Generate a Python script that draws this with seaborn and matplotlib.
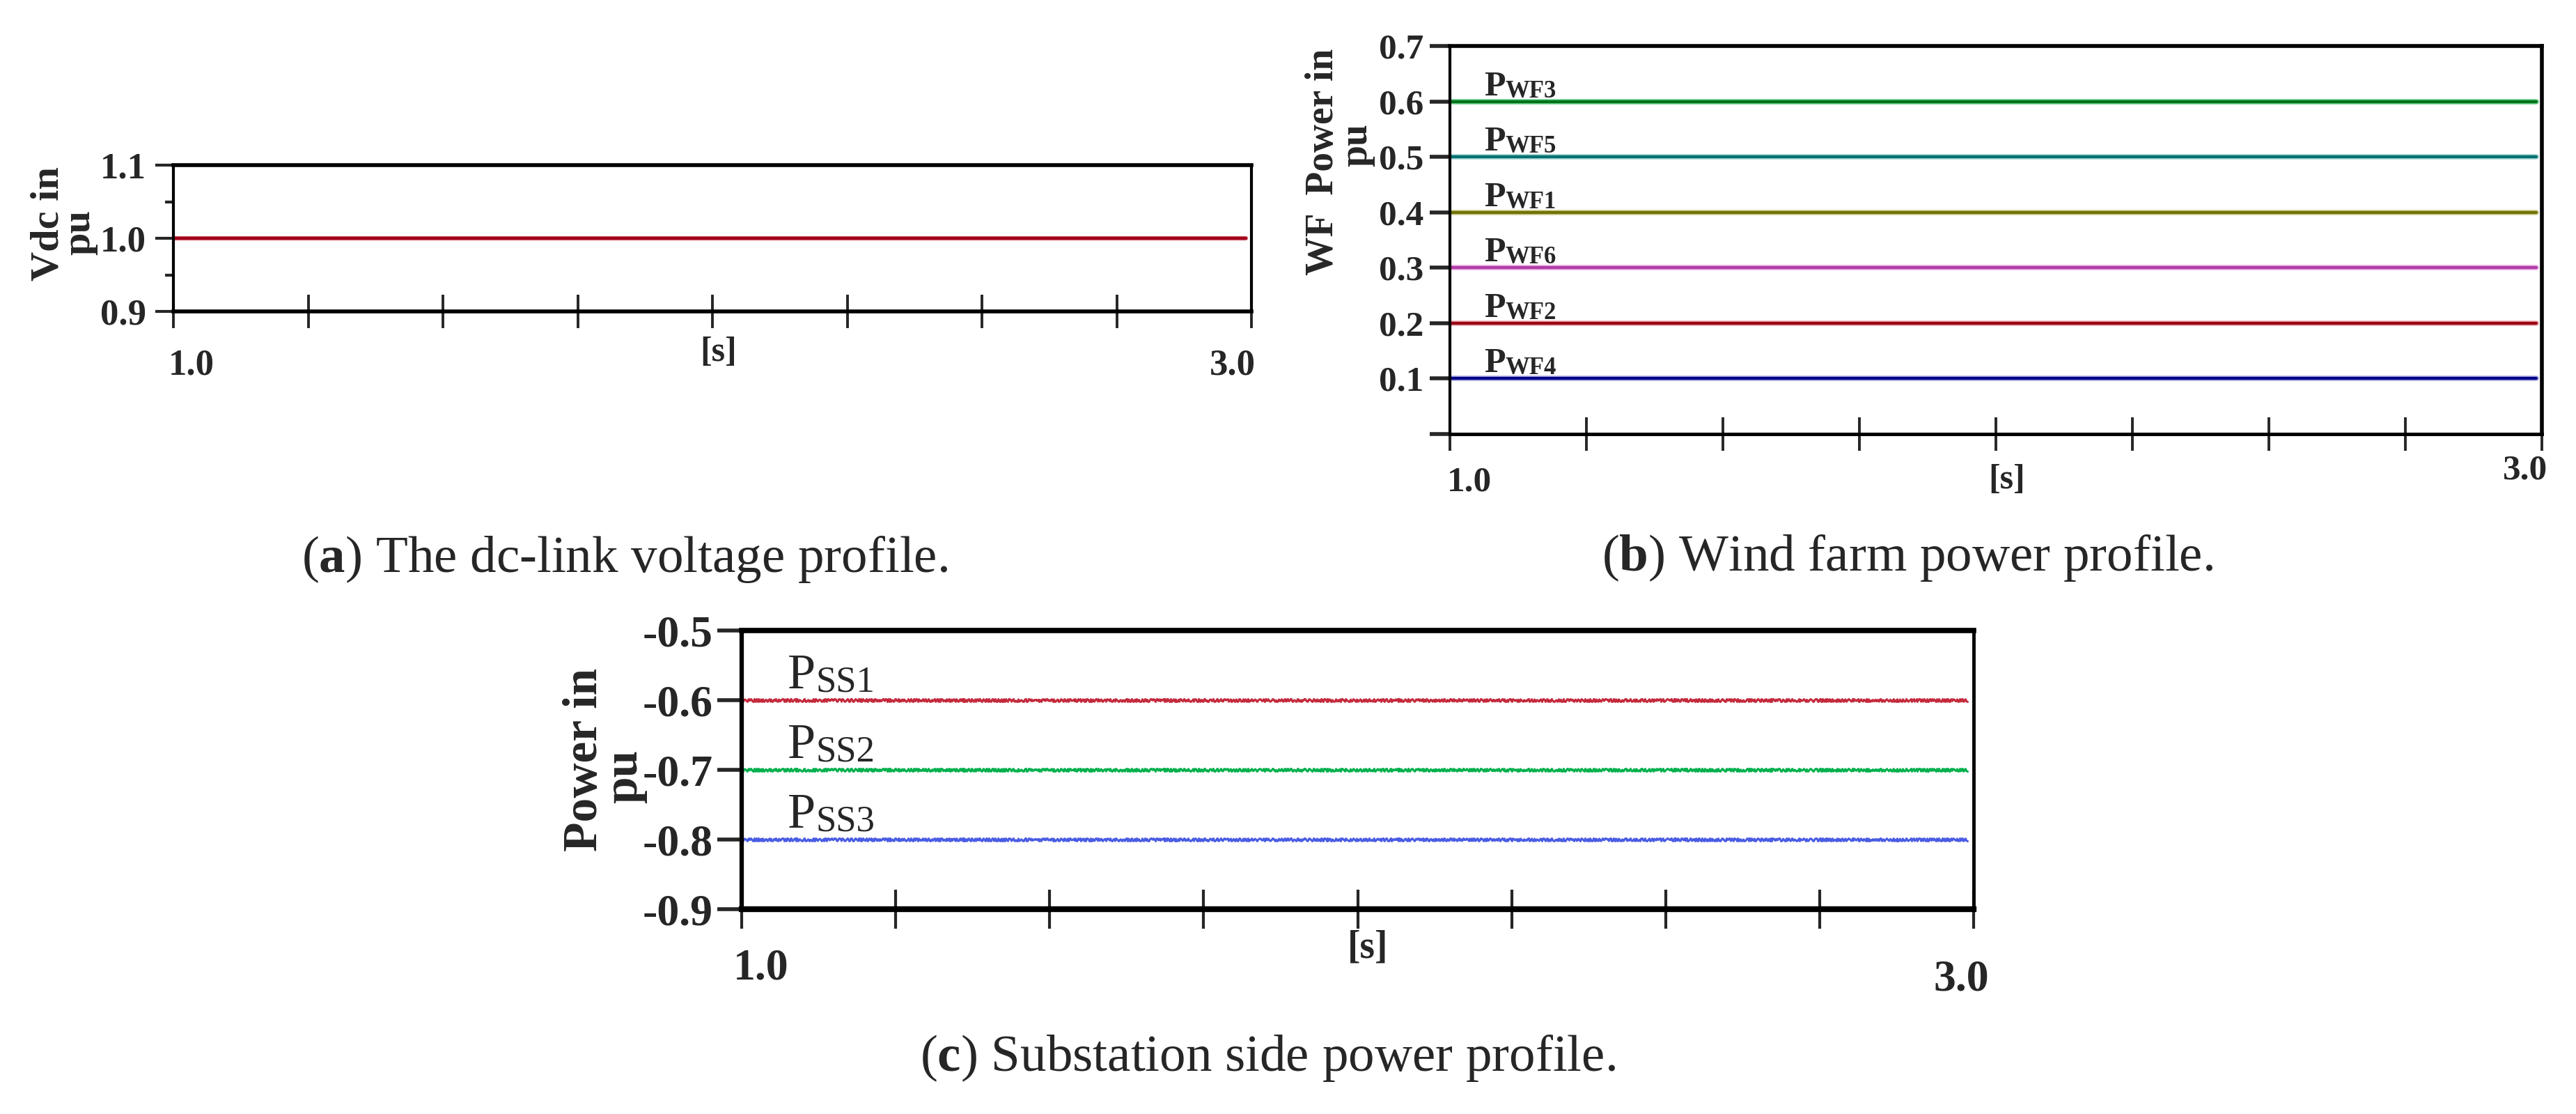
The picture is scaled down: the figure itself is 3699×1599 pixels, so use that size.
import pandas as pd
import seaborn as sns
import matplotlib.pyplot as plt
import matplotlib.patheffects as pe

# time axis shared by the three panels [s]
time_s = [1.0, 2.99]
x_ticks = [1.0, 1.25, 1.5, 1.75, 2.0, 2.25, 2.5, 2.75, 3.0]

# (a) dc-link voltage
vdc_pu = [1.0, 1.0]

# (b) wind farm powers
wf_names = ['WF3', 'WF5', 'WF1', 'WF6', 'WF2', 'WF4']
wf_pu = [0.6, 0.5, 0.4, 0.3, 0.2, 0.1]
wf_colors = ['#00721c', '#007070', '#727200', '#b03ca6', '#980012', '#000088']
wf_halos = ['#62c880', '#98cccc', '#c8c890', '#eaa8e2', '#eaa0aa', '#a4a4dc']

# (c) substation powers
ss_names = ['SS1', 'SS2', 'SS3']
ss_pu = [-0.6, -0.7, -0.8]
ss_colors = ['#c42a3c', '#00b04c', '#4a5ce4']

W, H = 3699, 1599


def fx(px):
    return px / W


def fy(py):
    return 1 - py / H


def long_frame(names, levels):
    rows = []
    for n, v in zip(names, levels):
        for t in time_s:
            rows.append({'series': n, 'time': t, 'value': v})
    return pd.DataFrame(rows)


def style_axes(ax, spines, ytick, xtick, labelsize, pad):
    for side, lw in spines.items():
        ax.spines[side].set_linewidth(lw)
        ax.spines[side].set_color('black')
    ax.set_xlim(1.0, 3.0)
    ax.set_xticks(x_ticks)
    ax.tick_params(axis='y', which='major', direction='out', length=ytick[0],
                   width=ytick[1], labelsize=labelsize, pad=pad)
    ax.tick_params(axis='x', direction='inout', length=xtick[0], width=xtick[1],
                   labelbottom=False)
    ax.set_xlabel('')
    ax.set_ylabel('')
    if ax.get_legend() is not None:
        ax.get_legend().remove()
    ax.set_facecolor('white')


def main():
    sns.set_style('ticks')
    plt.rcParams['font.family'] = ['Liberation Serif', 'DejaVu Serif']
    plt.rcParams['mathtext.fontset'] = 'custom'
    plt.rcParams['mathtext.rm'] = 'Liberation Serif'
    plt.rcParams['mathtext.bf'] = 'Liberation Serif:bold'
    plt.rcParams['axes.unicode_minus'] = False

    fig = plt.figure(figsize=(W / 100, H / 100), dpi=100)
    fig.patch.set_facecolor('white')

    # ---------- (a) dc-link voltage ----------
    ax_a = fig.add_axes([fx(249), fy(447), fx(1797 - 249), (447 - 237) / H])
    df_a = pd.DataFrame({'time': time_s, 'value': vdc_pu})
    sns.lineplot(data=df_a, x='time', y='value', color='#a0001c', linewidth=3.2, ax=ax_a)
    ax_a.lines[0].set_path_effects([pe.Stroke(linewidth=4.6, foreground='#e27a88'), pe.Normal()])
    ax_a.set_ylim(0.9, 1.1)
    ax_a.set_yticks([0.9, 1.0, 1.1], ['0.9', '1.0', '1.1'], fontweight='bold')
    ax_a.set_yticks([0.95, 1.05], minor=True)
    style_axes(ax_a, {'top': 4, 'left': 3, 'bottom': 4, 'right': 3},
               (19, 3), (35, 2.8), 38, 9)
    ax_a.tick_params(axis='y', which='minor', direction='out', length=9, width=3)

    fig.text(fx(275), fy(525), '1.0', fontsize=38, fontweight='bold', ha='center', va='center')
    fig.text(fx(1770), fy(525), '3.0', fontsize=38, fontweight='bold', ha='center', va='center')
    fig.text(fx(1032), fy(506), '[s]', fontsize=36, fontweight='bold', ha='center', va='center')
    fig.text(fx(69), fy(321), 'Vdc in', fontsize=42, fontweight='bold', rotation=90,
             ha='center', va='center')
    fig.text(fx(114), fy(334), 'pu', fontsize=42, fontweight='bold', rotation=90,
             ha='center', va='center')

    # ---------- (b) wind farm power ----------
    ax_b = fig.add_axes([fx(2082), fy(623), fx(3650 - 2082), (623 - 66) / H])
    df_b = long_frame(wf_names, wf_pu)
    sns.lineplot(data=df_b, x='time', y='value', hue='series', hue_order=wf_names,
                 palette=wf_colors, linewidth=3.0, ax=ax_b)
    for line, halo in zip(ax_b.lines, wf_halos):
        line.set_path_effects([pe.Stroke(linewidth=5.4, foreground=halo), pe.Normal()])
    ax_b.set_ylim(0.0, 0.7)
    b_ticks = [0.0, 0.1, 0.2, 0.3, 0.4, 0.5, 0.6, 0.7]
    ax_b.set_yticks(b_ticks, [''] + ['%.1f' % v for v in b_ticks[1:]], fontweight='bold')
    style_axes(ax_b, {'top': 4, 'left': 3, 'bottom': 3.6, 'right': 4},
               (21, 4), (34, 2.8), 37, 6)
    for n, v in zip(wf_names, wf_pu):
        p = ax_b.annotate('P', xy=(1.0625, v), xytext=(0, 6.5), textcoords='offset points',
                          fontsize=36, fontweight='bold', va='baseline', ha='left')
        ax_b.annotate(n, xy=(1, 0), xycoords=p, fontsize=25, fontweight='bold',
                      va='bottom', ha='left')

    fig.text(fx(2110), fy(692), '1.0', fontsize=37, fontweight='bold', ha='center', va='center')
    fig.text(fx(3626), fy(675), '3.0', fontsize=37, fontweight='bold', ha='center', va='center')
    fig.text(fx(2882), fy(689), '[s]', fontsize=36, fontweight='bold', ha='center', va='center')
    fig.text(fx(1900), fy(232), 'WF  Power in', fontsize=40, fontweight='bold', rotation=90,
             ha='center', va='center')
    fig.text(fx(1948), fy(208), 'pu', fontsize=40, fontweight='bold', rotation=90,
             ha='center', va='center')

    # ---------- (c) substation power ----------
    ax_c = fig.add_axes([fx(1065), fy(1305), fx(2834 - 1065), (1305 - 905) / H])
    df_c = long_frame(ss_names, ss_pu)
    sns.lineplot(data=df_c, x='time', y='value', hue='series', hue_order=ss_names,
                 palette=ss_colors, linewidth=2.2, ax=ax_c)
    for line in ax_c.lines:
        # ripple look of the measured signal
        line.set_sketch_params(scale=2.0, length=5, randomness=3)
    ax_c.set_ylim(-0.9, -0.5)
    c_ticks = [-0.9, -0.8, -0.7, -0.6, -0.5]
    ax_c.set_yticks(c_ticks, ['%.1f' % v for v in c_ticks], fontweight='bold')
    style_axes(ax_c, {'top': 5.5, 'left': 4.5, 'bottom': 6, 'right': 3.5},
               (25, 4), (40, 3), 46, 5)
    for n, v in zip(ss_names, ss_pu):
        p = ax_c.annotate('P', xy=(1.075, v), xytext=(0, 12), textcoords='offset points',
                          fontsize=52, va='baseline', ha='left')
        ax_c.annotate(n, xy=(1, 0), xycoords=p, fontsize=38, va='bottom', ha='left')

    fig.text(fx(1093), fy(1391), '1.0', fontsize=46, fontweight='bold', ha='center', va='center')
    fig.text(fx(2816), fy(1407), '3.0', fontsize=46, fontweight='bold', ha='center', va='center')
    fig.text(fx(1964), fy(1361), '[s]', fontsize=40, fontweight='bold', ha='center', va='center')
    fig.text(fx(840), fy(1090), 'Power in', fontsize=50, fontweight='bold', rotation=90,
             ha='center', va='center')
    fig.text(fx(897), fy(1114), 'pu', fontsize=50, fontweight='bold', rotation=90,
             ha='center', va='center')

    # captions
    fig.text(fx(897), fy(803), r'($\mathbf{a}$) The dc-link voltage profile.', fontsize=54,
             ha='center', va='center')
    fig.text(fx(2739), fy(801), r'($\mathbf{b}$) Wind farm power profile.', fontsize=54,
             ha='center', va='center')
    fig.text(fx(1820), fy(1519), r'($\mathbf{c}$) Substation side power profile.', fontsize=54,
             ha='center', va='center')

    fig.savefig('out.png', dpi=100, facecolor='white')
    plt.close(fig)


if __name__ == "__main__":
    main()
